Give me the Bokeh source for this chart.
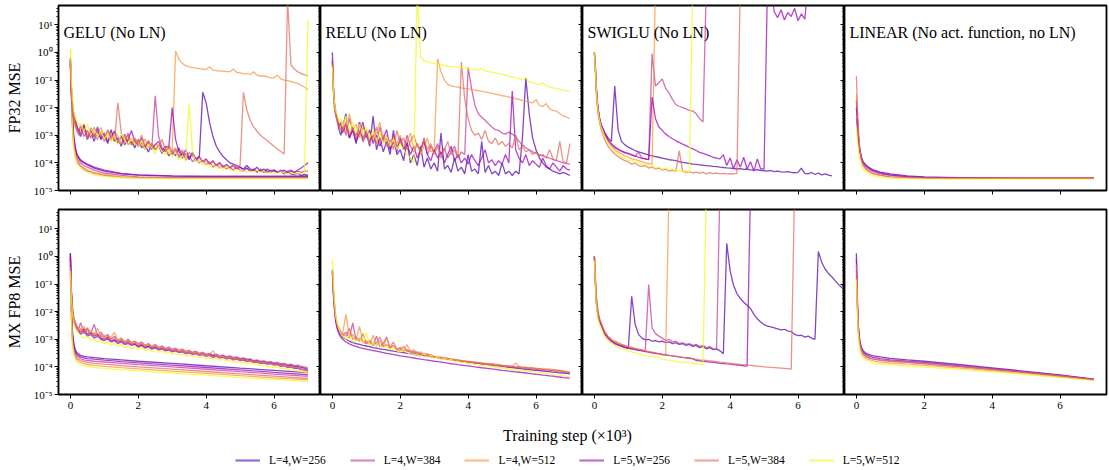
from bokeh.plotting import figure
from bokeh.models import (Range1d, FixedTicker, CustomJSTickFormatter, Label,
                          Legend, LegendItem, LogAxis)
from bokeh.layouts import column, row
from bokeh.embed import file_html
from bokeh.resources import INLINE

FONT = "Liberation Serif"

SERIES = ["L=4,W=256", "L=4,W=384", "L=4,W=512", "L=5,W=256", "L=5,W=384", "L=5,W=512"]
COLORS = ["#570ab1", "#c53f9d", "#f89540", "#9b08bb", "#e66c5c", "#f0f921"]
PANEL_TITLES = ["GELU (No LN)", "RELU (No LN)", "SWIGLU (No LN)", "LINEAR (No act. function, no LN)"]
ROW_LABELS = ["FP32 MSE", "MX FP8 MSE"]
X_LABEL = "Training step (\u00d710\u00b3)"
X_TICKS = [0, 2, 4, 6]
Y_TICKS = [1e-5, 1e-4, 1e-3, 1e-2, 1e-1, 1e0, 1e1]

# training step (x1e3) at which values were logged
T_SMOOTH = [0, 0.03, 0.06, 0.1, 0.15, 0.2, 0.3, 0.4, 0.5, 0.7, 1.0, 1.5, 2.0, 3.0, 4.0, 5.0, 6.0, 7.0]
T_NOISY = [0, 0.03, 0.06, 0.1, 0.15, 0.2, 0.25] + [round(0.3 + 0.1 * i, 1) for i in range(71)]

# ---------------- GELU, FP32 ----------------
g32_s_a = [0.5, 0.05, 5e-3, 8e-4, 3e-4, 1.8e-4, 1.2e-4, 1e-4, 8.5e-5, 6.5e-5, 5e-5, 4e-5, 3.6e-5, 3.3e-5, 3.2e-5, 3.2e-5, 3.2e-5, 3.2e-5]
g32_s_b = [0.3, 0.03, 3e-3, 6e-4, 2.5e-4, 1.5e-4, 1e-4, 8e-5, 7e-5, 5.5e-5, 4.3e-5, 3.5e-5, 3.1e-5, 2.9e-5, 2.9e-5, 2.9e-5, 2.9e-5, 2.9e-5]
g32_s_c = [0.6, 0.04, 2.5e-3, 5e-4, 2e-4, 1.2e-4, 8e-5, 6.5e-5, 5.5e-5, 4.5e-5, 3.8e-5, 3.2e-5, 3e-5, 2.8e-5, 2.8e-5, 2.8e-5, 2.8e-5, 2.8e-5]
g32_s_d = [0.4, 0.06, 6e-3, 9e-4, 3.5e-4, 2e-4, 1.3e-4, 1.05e-4, 9e-5, 7e-5, 5.5e-5, 4.2e-5, 3.7e-5, 3.4e-5, 3.3e-5, 3.3e-5, 3.3e-5, 3.4e-5]
g32_s_e = [0.35, 0.03, 2e-3, 4e-4, 1.7e-4, 1.1e-4, 7.5e-5, 6e-5, 5e-5, 4.2e-5, 3.5e-5, 3e-5, 2.9e-5, 2.8e-5, 2.8e-5, 2.8e-5, 2.8e-5, 2.8e-5]
g32_s_f = [1.3, 0.05, 2e-3, 3.5e-4, 1.5e-4, 9e-5, 6.5e-5, 5.2e-5, 4.5e-5, 3.8e-5, 3.2e-5, 2.9e-5, 2.8e-5, 2.7e-5, 2.7e-5, 2.7e-5, 2.7e-5, 2.7e-5]

g32_n_a = [0.5, 0.03, 8e-3, 4e-3, 2.5e-3, 1.6e-3, 1.2e-3,
           9e-4, 2e-3, 7e-4, 1.3e-3, 6e-4, 1.5e-3, 7e-4,
           1e-3, 5e-4, 1.6e-3, 6e-4, 8e-4, 4e-4, 1.1e-3, 4.5e-4, 6e-4, 3.5e-4,
           7e-4, 3.5e-4, 4.5e-4, 2.5e-4, 5e-4, 3e-4, 4e-4, 2.2e-4, 3.2e-4, 1.8e-4,
           2.6e-4, 1.8e-4, 3.5e-4, 1.5e-4, 2.2e-4, 1.3e-4, 2.4e-4, 1.4e-4, 1.7e-4, 3.6e-2,
           1.5e-2, 3e-3, 9e-4, 4e-4, 2.5e-4, 1.7e-4, 1.3e-4, 1e-4, 9e-5, 8e-5,
           7e-5, 6e-5, 8e-5, 6e-5, 5.5e-5, 7e-5, 5e-5, 6e-5, 5e-5, 4.5e-5,
           5.5e-5, 4.5e-5, 5e-5, 4e-5, 4.5e-5, 4e-5, 3.8e-5, 4.2e-5, 3.5e-5, 3.8e-5,
           3.5e-5]
g32_n_b = [0.4, 0.05, 1.2e-2, 5e-3, 3e-3, 2e-3, 1.4e-3,
           2.2e-3, 9e-4, 1.5e-3, 8e-4, 1.9e-3, 9e-4, 1.2e-3,
           6e-4, 1.4e-3, 7e-4, 1e-3, 5e-4, 9e-4, 6e-4, 1.2e-3, 4.5e-4, 7e-4,
           4e-4, 5.5e-4, 3e-4, 6e-4, 3.5e-4, 2.7e-2, 9e-4, 3.5e-4, 2.5e-4, 3.5e-4,
           2e-4, 3e-4, 1.5e-4, 2.5e-4, 1.3e-4, 1.8e-4, 1.1e-4, 1.5e-4, 1e-4, 1.2e-4,
           8.5e-5, 1.1e-4, 7e-5, 9e-5, 6.5e-5, 8e-5, 6e-5, 7e-5, 5.5e-5, 7e-5,
           5.5e-5, 5e-5, 6.5e-5, 5e-5, 5.5e-5, 4.5e-5, 6e-5, 5e-5, 4.5e-5, 5.5e-5,
           5e-5, 4.5e-5, 5.5e-5, 4.5e-5, 5e-5, 5.5e-5, 4.5e-5, 5e-5, 4.5e-5, 5e-5,
           5e-5]
g32_n_c = [0.7, 0.04, 1e-2, 4e-3, 2.5e-3, 1.8e-3, 1.3e-3,
           1.5e-3, 2.5e-3, 1e-3, 1.6e-3, 8e-4, 1.3e-3, 1.9e-3,
           8e-4, 1.2e-3, 6e-4, 1.5e-3, 9e-4, 5e-4, 1e-3, 6e-4, 8e-4, 4.5e-4,
           6.5e-4, 4e-4, 7.5e-4, 3.5e-4, 5e-4, 3e-4, 4.5e-4, 2.6e-4, 3.8e-4, 2e-4,
           2.5e-4, 1.1, 0.55, 0.4, 0.33, 0.3, 0.28, 0.27, 0.26, 0.25,
           0.24, 0.3, 0.23, 0.22, 0.21, 0.21, 0.2, 0.2, 0.25, 0.19,
           0.18, 0.17, 0.17, 0.16, 0.2, 0.15, 0.14, 0.14, 0.13, 0.12,
           0.12, 0.15, 0.11, 0.1, 0.095, 0.09, 0.08, 0.075, 0.065, 0.055,
           0.045]
g32_n_d = [0.6, 0.04, 1.5e-2, 6e-3, 3.5e-3, 2e-3, 1.5e-3,
           1.1e-3, 2.4e-3, 8e-4, 1.4e-3, 9e-4, 2e-3, 8e-4,
           1.2e-3, 6e-4, 9e-4, 1.4e-3, 5e-4, 1e-3, 4.5e-4, 7e-4, 1.5e-3, 5.5e-4,
           4e-4, 8e-4, 3.5e-4, 5.5e-4, 3e-4, 4.5e-4, 6e-4, 2.8e-4, 4e-4, 3.5e-4,
           1e-2, 7e-4, 2.5e-4, 1.8e-4, 3e-4, 1.5e-4, 2.2e-4, 1.2e-4, 1.7e-4, 1.1e-4,
           1.4e-4, 9e-5, 1.2e-4, 8e-5, 1.05e-4, 7e-5, 9e-5, 6.5e-5, 8e-5, 6e-5,
           7e-5, 5.5e-5, 6.5e-5, 5e-5, 6e-5, 5e-5, 5.5e-5, 4.5e-5, 6e-5, 5e-5,
           5.5e-5, 4.5e-5, 5e-5, 5.5e-5, 4.5e-5, 5e-5, 4.5e-5, 5.5e-5, 6.5e-5, 8e-5,
           1e-4]
g32_n_e = [0.3, 0.03, 7e-3, 3e-3, 2e-3, 1.3e-3, 1e-3,
           1.1e-3, 1.7e-3, 7e-4, 1.9e-3, 1.1e-3, 7e-4, 1.4e-3,
           8e-4, 1.6e-3, 1e-3, 6e-4, 1.5e-2, 1.2e-3, 6e-4, 1e-3, 4.5e-4, 8e-4,
           5e-4, 1e-3, 4e-4, 6.5e-4, 3.5e-4, 5e-4, 4e-4, 7e-4, 3e-4, 4.5e-4,
           2.5e-4, 3.5e-4, 1.8e-4, 3e-4, 1.5e-4, 2.4e-4, 1.8e-4, 1.2e-4, 1.5e-4, 1.1e-4,
           1.2e-4, 9e-5, 1.1e-4, 8e-5, 9e-5, 7e-5, 8e-5, 7e-5, 9e-5, 7e-5,
           8e-5, 3.6e-2, 8e-3, 3.5e-3, 2e-3, 1.4e-3, 1e-3, 8e-4, 6.5e-4, 5e-4,
           4e-4, 3.2e-4, 2.6e-4, 2.1e-4, 80, 0.35, 0.25, 0.2, 0.17, 0.155,
           0.14]
g32_n_f = [1.3, 0.1, 2.5e-2, 7e-3, 4e-3, 3e-3, 2.2e-3,
           2.8e-3, 1.4e-3, 2.5e-3, 1e-3, 1.7e-3, 9e-4, 1.4e-3,
           7e-4, 1.2e-3, 6e-4, 1e-3, 4.5e-4, 1.1e-3, 7e-4, 4.5e-4, 8e-4, 5e-4,
           4e-4, 6.5e-4, 3e-4, 5e-4, 3.5e-4, 2.2e-4, 4e-4, 2.6e-4, 2e-4, 3.2e-4,
           1.6e-4, 2.5e-4, 1.3e-4, 1.9e-4, 1.1e-4, 1.4e-2, 2.5e-4, 1.1e-4, 1.2e-4, 8.5e-5,
           9.5e-5, 7e-5, 8.5e-5, 6.5e-5, 7e-5, 5.5e-5, 7.5e-5, 5.5e-5, 5e-5, 6e-5,
           5e-5, 5.5e-5, 4.5e-5, 5e-5, 4.5e-5, 5.5e-5, 4.5e-5, 5e-5, 4.2e-5, 4.6e-5,
           4.4e-5, 4.2e-5, 4.8e-5, 4.3e-5, 4.1e-5, 4.4e-5, 4e-5, 4.3e-5, 4.1e-5, 4.3e-5,
           15]

# ---------------- RELU, FP32 ----------------
r32_a = [1.0, 0.06, 1.5e-2, 6e-3, 3e-3, 1.5e-3, 1e-3,
         2e-3, 6e-3, 8e-4, 1.5e-3, 5e-4, 3e-3, 6e-4,
         1.2e-3, 4e-4, 5e-3, 3e-4, 8e-4, 2.5e-4, 6e-4, 2e-4, 1.5e-3, 2e-4,
         3e-4, 1.2e-4, 6e-4, 1e-4, 2e-4, 8e-5, 4e-4, 7e-5, 1.5e-4, 6e-5,
         1e-4, 5e-5, 1.2e-3, 6e-5, 8e-5, 4.5e-5, 1.5e-4, 5e-5, 7e-5, 4e-5,
         2e-4, 5e-5, 6e-5, 4e-5, 6e-4, 4.5e-5, 8e-5, 4e-5, 5e-5, 3.5e-5,
         1e-4, 4e-5, 5e-5, 3.5e-5, 5e-5, 4e-5, 8e-4, 0.12, 6e-3, 8e-4,
         3e-4, 1.5e-4, 1e-4, 7e-5, 6e-5, 5e-5, 4.5e-5, 4e-5, 4.5e-5, 4e-5,
         3.5e-5]
r32_b = [0.6, 0.05, 1e-2, 5e-3, 4e-3, 2e-3, 1.5e-3,
         2.5e-3, 1e-3, 4e-3, 1.5e-3, 1e-3, 3e-3, 8e-4,
         1.5e-3, 6e-4, 1e-3, 5e-4, 2e-3, 6e-4, 8e-4, 3e-4, 1e-3, 4e-4,
         6e-4, 3e-4, 1e-3, 4e-4, 2.5e-4, 5e-4, 3e-4, 8e-4, 2e-4, 4e-4,
         2.5e-4, 5e-4, 2e-4, 3.5e-4, 1.5e-4, 2.5e-4, 4e-4, 1.5e-4, 2.5e-4, 2e-4,
         0.29, 0.05, 0.012, 6e-3, 4.5e-3, 3.5e-3, 2.6e-3, 2e-3, 1.6e-3, 1.5e-3,
         1.2e-3, 1.1e-3, 1.3e-3, 1.1e-3, 9e-4, 6e-4, 4.5e-4, 3.5e-4, 3e-4, 2.5e-4,
         2.2e-4, 2e-4, 1.8e-4, 1.6e-4, 1.5e-4, 1.3e-4, 1.2e-4, 1.1e-4, 1e-4, 9.5e-5,
         9e-5]
r32_c = [0.5, 0.04, 1e-2, 6e-3, 3e-3, 2.5e-3, 1.5e-3,
         3e-3, 1.2e-3, 6e-3, 1.5e-3, 2.5e-3, 8e-4, 2e-3,
         1e-3, 1.6e-3, 6e-4, 1.2e-3, 3e-3, 7e-4, 1e-3, 4e-4, 8e-4, 5e-4,
         1e-3, 3e-4, 6e-4, 1.2e-3, 3e-4, 5e-4, 2e-4, 4e-4, 8e-4, 2.5e-4,
         3e-4, 0.59, 0.2, 0.1, 0.07, 0.062, 0.058, 0.055, 0.052, 0.05,
         0.048, 0.045, 0.043, 0.041, 0.039, 0.037, 0.035, 0.033, 0.031, 0.029,
         0.027, 0.026, 0.024, 0.023, 0.021, 0.02, 0.018, 0.017, 0.016, 0.015,
         0.02, 0.012, 0.011, 0.014, 9e-3, 8e-3, 7.5e-3, 6e-3, 5e-3, 4.5e-3,
         4e-3]
r32_d = [0.5, 0.05, 1.5e-2, 7e-3, 4e-3, 2e-3, 3e-3,
         1.2e-3, 2.5e-3, 8e-4, 1.8e-3, 6e-4, 1.2e-3, 3e-3,
         8e-4, 1.5e-3, 5e-4, 1e-3, 4e-4, 8e-4, 1.6e-3, 3e-4, 6e-4, 2.5e-4,
         8e-4, 3e-4, 5e-4, 2e-4, 4e-4, 1.5e-4, 3e-4, 6e-4, 2e-4, 1.2e-4,
         3e-4, 1.5e-4, 2.5e-4, 1e-4, 2e-4, 4e-4, 1.2e-4, 2e-4, 1e-4, 1.5e-4,
         9e-5, 2e-4, 1.2e-4, 8e-5, 1.5e-4, 3e-4, 1e-4, 1.3e-4, 8e-5, 1.2e-4,
         9e-5, 2e-4, 1e-4, 0.04, 3e-4, 1.5e-4, 1e-4, 2e-4, 8e-5, 1.2e-4,
         9e-5, 7e-5, 1.5e-4, 8e-5, 6e-5, 1e-4, 7e-5, 5e-5, 8e-5, 6e-5,
         5.5e-5]
r32_e = [0.4, 0.04, 1.2e-2, 5e-3, 3e-3, 2e-3, 2.5e-3,
         1.5e-3, 3e-3, 1e-3, 2e-3, 8e-4, 1.5e-3, 6e-4,
         1.2e-3, 5e-4, 9e-4, 2e-3, 6e-4, 1e-3, 4e-4, 7e-4, 3e-4, 1.5e-3,
         5e-4, 8e-4, 3e-4, 6e-4, 1e-3, 4e-4, 2.5e-4, 7e-4, 3e-4, 5e-4,
         2e-4, 4e-4, 1.5e-4, 3e-4, 6e-4, 2e-4, 3e-4, 1.5e-4, 0.45, 0.02,
         4e-3, 1.5e-3, 1e-3, 1.2e-3, 7e-4, 1.5e-3, 6e-4, 5e-4, 8e-4, 4.5e-4,
         6e-4, 4e-4, 5e-4, 3.5e-4, 1e-3, 3e-4, 4e-4, 2.5e-4, 3e-4, 2e-4,
         2.5e-4, 1.8e-4, 2e-4, 1.5e-4, 3e-4, 1.4e-4, 1.2e-4, 6e-4, 1.1e-4, 1e-4,
         5e-4]
r32_f = [0.3, 0.05, 1.5e-2, 8e-3, 5e-3, 3e-3, 4e-3,
         2e-3, 5e-3, 1.5e-3, 3e-3, 1.2e-3, 2.5e-3, 1e-3,
         2e-3, 8e-4, 1.5e-3, 6e-4, 1.2e-3, 5e-4, 9e-4, 4e-4, 7e-4, 3e-4,
         5e-4, 3e-4, 2e-4, 1.5e-4, 1e-4, 200, 0.68, 0.5, 0.45, 0.42,
         0.4, 0.38, 0.36, 0.34, 0.32, 0.31, 0.3, 0.29, 0.28, 0.27,
         0.26, 0.25, 0.24, 0.23, 0.27, 0.21, 0.2, 0.19, 0.18, 0.17,
         0.16, 0.15, 0.14, 0.13, 0.12, 0.11, 0.1, 0.12, 0.085, 0.08,
         0.072, 0.068, 0.08, 0.06, 0.056, 0.052, 0.05, 0.046, 0.043, 0.041,
         0.039]

# ---------------- SWIGLU, FP32 ----------------
s32_a = [1.0, 0.3, 0.05, 0.012, 4e-3, 2.5e-3, 1.8e-3,
         1.3e-3, 8e-4, 6e-4, 6e-2, 1.5e-3, 6e-4, 4.5e-4,
         3.7e-4, 3.2e-4, 2.8e-4, 2.5e-4, 2.3e-4, 2.1e-4, 1.9e-4, 1.8e-4, 1.7e-4, 1.6e-4,
         1.5e-4, 1.4e-4, 1.3e-4, 1.25e-4, 1.2e-4, 1.1e-4, 1.05e-4, 1e-4, 9.5e-5, 9e-5,
         8.8e-5, 8.5e-5, 8.2e-5, 8e-5, 7.8e-5, 7.5e-5, 7.3e-5, 7e-5, 6.8e-5, 6.6e-5,
         6.5e-5, 6.3e-5, 6e-5, 6.2e-5, 5.8e-5, 6e-5, 5.6e-5, 5.5e-5, 5.7e-5, 5.3e-5,
         5.2e-5, 5e-5, 5.3e-5, 4.8e-5, 5e-5, 4.7e-5, 4.6e-5, 4.8e-5, 4.5e-5, 4.4e-5,
         4.5e-5, 6.5e-5, 4.2e-5, 4e-5, 4.5e-5, 3.8e-5, 4.3e-5, 3.7e-5, 4e-5, 3.6e-5,
         3.4e-5]
s32_b = [1.0, 0.25, 0.04, 0.01, 4e-3, 2.2e-3, 1.6e-3,
         1.1e-3, 6.5e-4, 4.5e-4, 3.5e-4, 3e-4, 2.6e-4, 2.3e-4,
         2.1e-4, 1.9e-4, 1.7e-4, 2.5e-4, 1.5e-4, 1.4e-4, 1.3e-4, 0.9, 0.06, 0.08,
         0.11, 0.05, 0.034, 0.02, 0.013, 0.011, 0.01, 9e-3, 8e-3, 7.5e-3,
         6e-3, 4e-3, 3e-3, 300]
s32_c = [1.0, 0.2, 0.03, 8e-3, 3.5e-3, 2e-3, 1.4e-3,
         1e-3, 6e-4, 4e-4, 3e-4, 2.5e-4, 2.1e-4, 1.8e-4,
         1.6e-4, 1.4e-4, 1.3e-4, 1.2e-4, 1.1e-4, 1e-4, 9.5e-5, 9e-5, 300]
s32_d = [1.0, 0.28, 0.045, 0.011, 4.5e-3, 2.3e-3, 1.7e-3,
         1.2e-3, 7e-4, 5e-4, 3.8e-4, 3.2e-4, 2.7e-4, 2.4e-4,
         2.2e-4, 2e-4, 1.8e-4, 1.6e-4, 1.5e-4, 1.4e-4, 1.3e-4, 0.024, 4e-3, 2e-3,
         1.5e-3, 1.1e-3, 9e-4, 7.5e-4, 6.3e-4, 5.5e-4, 4.8e-4, 4.2e-4, 3.6e-4, 3.2e-4,
         2.8e-4, 2.4e-4, 2.2e-4, 2e-4, 1.8e-4, 1.6e-4, 1.5e-4, 1.4e-4, 2e-4, 8e-5,
         1.5e-4, 6e-5, 1.3e-4, 7e-5, 1.6e-4, 6e-5, 1.1e-4, 5e-5, 1.4e-4, 6e-5,
         6e-5, 300, 200, 30, 18, 35, 15, 28, 20, 40,
         14, 25, 16, 300]
s32_e = [1.0, 0.2, 0.03, 7e-3, 3e-3, 1.6e-3, 1.1e-3,
         7e-4, 4e-4, 2.8e-4, 2.1e-4, 1.7e-4, 1.4e-4, 1.2e-4,
         1.1e-4, 9e-5, 1e-4, 8e-5, 7.5e-5, 8e-5, 6.5e-5, 7e-5, 6e-5, 6.5e-5,
         5.5e-5, 6e-5, 5e-5, 5.5e-5, 4.8e-5, 2.7e-4, 5e-5, 4.5e-5, 4.8e-5, 4.3e-5,
         4.6e-5, 4.2e-5, 4.5e-5, 4e-5, 4.4e-5, 4.1e-5, 4.3e-5, 4e-5, 4.2e-5, 4e-5,
         4.1e-5, 4e-5, 4.2e-5, 300]
s32_f = [1.0, 0.22, 0.035, 9e-3, 3.5e-3, 2e-3, 1.4e-3,
         9e-4, 5e-4, 3.5e-4, 2.6e-4, 2.2e-4, 1.6e-4, 1.5e-4,
         1.2e-4, 1.3e-4, 1e-4, 1.1e-4, 8.5e-5, 9e-5, 7.5e-5, 8e-5, 6.5e-5, 7e-5,
         6e-5, 6.5e-5, 5.5e-5, 6e-5, 5e-5, 5.5e-5, 4.8e-5, 5.2e-5, 4.7e-5, 300]

# ---------------- LINEAR, FP32 ----------------
l32_a = [0.018, 4e-3, 1e-3, 3e-4, 1.6e-4, 1.1e-4, 8e-5, 6.5e-5, 5.6e-5, 4.6e-5, 4e-5, 3.4e-5, 3.1e-5, 2.9e-5, 2.85e-5, 2.8e-5, 2.8e-5, 2.8e-5]
l32_b = [4e-3, 1.5e-3, 6e-4, 2.5e-4, 1.3e-4, 9e-5, 6.5e-5, 5.5e-5, 4.8e-5, 4e-5, 3.5e-5, 3.1e-5, 2.9e-5, 2.8e-5, 2.8e-5, 2.8e-5, 2.8e-5, 2.8e-5]
l32_c = [0.03, 5e-3, 1.2e-3, 2.8e-4, 1.3e-4, 8.5e-5, 6e-5, 4.8e-5, 4.2e-5, 3.6e-5, 3.2e-5, 2.9e-5, 2.8e-5, 2.75e-5, 2.75e-5, 2.75e-5, 2.75e-5, 2.75e-5]
l32_d = [0.01, 3e-3, 9e-4, 3e-4, 1.5e-4, 1e-4, 7.5e-5, 6e-5, 5.2e-5, 4.3e-5, 3.7e-5, 3.2e-5, 3e-5, 2.9e-5, 2.8e-5, 2.8e-5, 2.8e-5, 2.8e-5]
l32_e = [0.14, 0.012, 1.5e-3, 3e-4, 1.3e-4, 8e-5, 5.5e-5, 4.6e-5, 4e-5, 3.5e-5, 3.1e-5, 2.9e-5, 2.8e-5, 2.8e-5, 2.8e-5, 2.8e-5, 2.8e-5, 2.85e-5]
l32_f = [2e-3, 6e-4, 2.5e-4, 1.3e-4, 8e-5, 6e-5, 4.5e-5, 3.8e-5, 3.4e-5, 3e-5, 2.8e-5, 2.7e-5, 2.65e-5, 2.6e-5, 2.6e-5, 2.6e-5, 2.6e-5, 2.6e-5]

# ---------------- GELU, MX FP8 ----------------
g8_s_a = [1.3, 0.02, 2e-3, 7e-4, 4e-4, 3.2e-4, 2.6e-4, 2.4e-4, 2.3e-4, 2.15e-4, 2e-4, 1.8e-4, 1.6e-4, 1.35e-4, 1.1e-4, 9e-5, 7.5e-5, 6.2e-5]
g8_s_b = [0.5, 0.01, 1.2e-3, 5e-4, 3e-4, 2.4e-4, 2e-4, 1.8e-4, 1.7e-4, 1.6e-4, 1.5e-4, 1.35e-4, 1.2e-4, 1e-4, 8.2e-5, 6.7e-5, 5.5e-5, 4.5e-5]
g8_s_c = [0.25, 6e-3, 8e-4, 3.5e-4, 2.2e-4, 1.7e-4, 1.45e-4, 1.3e-4, 1.22e-4, 1.13e-4, 1.05e-4, 9.4e-5, 8.5e-5, 7e-5, 5.8e-5, 4.8e-5, 4e-5, 3.4e-5]
g8_s_d = [0.8, 0.015, 1.5e-3, 6e-4, 3.5e-4, 2.8e-4, 2.3e-4, 2.1e-4, 2e-4, 1.9e-4, 1.75e-4, 1.55e-4, 1.4e-4, 1.15e-4, 9.5e-5, 7.8e-5, 6.3e-5, 5.2e-5]
g8_s_e = [0.3, 8e-3, 1e-3, 4e-4, 2.5e-4, 2e-4, 1.7e-4, 1.55e-4, 1.45e-4, 1.35e-4, 1.25e-4, 1.12e-4, 1e-4, 8.3e-5, 6.8e-5, 5.6e-5, 4.6e-5, 3.8e-5]
g8_s_f = [0.2, 5e-3, 7e-4, 3e-4, 1.8e-4, 1.4e-4, 1.2e-4, 1.1e-4, 1.03e-4, 9.5e-5, 8.8e-5, 7.9e-5, 7.2e-5, 6e-5, 5e-5, 4.1e-5, 3.5e-5, 3e-5]

g8_n_a = [1.3, 0.06, 0.012, 5e-3, 3e-3, 2.5e-3, 2e-3,
          1.8e-3, 2.4e-3, 1.5e-3, 1.7e-3, 1.3e-3, 1.5e-3, 1.1e-3,
          1e-3, 1.2e-3, 8.5e-4, 9.5e-4, 8e-4, 9e-4, 7e-4, 8e-4, 6.5e-4, 7e-4,
          5.5e-4, 6.5e-4, 5.2e-4, 5.8e-4, 4.8e-4, 5.3e-4, 4.5e-4, 4.9e-4, 4.2e-4, 4.5e-4,
          3.8e-4, 4.2e-4, 3.6e-4, 3.9e-4, 3.3e-4, 3.6e-4, 3.1e-4, 3.3e-4, 2.9e-4, 3.1e-4,
          2.7e-4, 2.9e-4, 2.5e-4, 2.7e-4, 2.3e-4, 2.5e-4, 2.2e-4, 2.3e-4, 2e-4, 2.1e-4,
          1.9e-4, 2e-4, 1.75e-4, 1.85e-4, 1.6e-4, 1.7e-4, 1.5e-4, 1.55e-4, 1.4e-4, 1.45e-4,
          1.3e-4, 1.35e-4, 1.2e-4, 1.25e-4, 1.1e-4, 1.15e-4, 1.02e-4, 1.05e-4, 9.5e-5, 9e-5,
          8e-5]
g8_n_b = [0.9, 0.05, 0.015, 6e-3, 4e-3, 3e-3, 2.4e-3,
          4e-3, 1.8e-3, 2.6e-3, 1.6e-3, 3.5e-3, 1.4e-3, 1.8e-3,
          1.2e-3, 1.5e-3, 1e-3, 1.3e-3, 9e-4, 1.1e-3, 8e-4, 1e-3, 7.5e-4, 8.5e-4,
          7e-4, 8e-4, 6e-4, 7e-4, 5.5e-4, 6.5e-4, 5e-4, 5.8e-4, 4.6e-4, 5.2e-4,
          4.3e-4, 4.8e-4, 4e-4, 4.4e-4, 3.7e-4, 4e-4, 3.4e-4, 3.7e-4, 3.1e-4, 3.4e-4,
          2.9e-4, 3.1e-4, 2.7e-4, 2.9e-4, 2.5e-4, 2.7e-4, 2.3e-4, 2.5e-4, 2.2e-4, 2.3e-4,
          2e-4, 2.1e-4, 1.9e-4, 1.95e-4, 1.7e-4, 1.8e-4, 1.6e-4, 1.65e-4, 1.5e-4, 1.55e-4,
          1.4e-4, 1.45e-4, 1.3e-4, 1.35e-4, 1.2e-4, 1.25e-4, 1.12e-4, 1.15e-4, 1.05e-4, 1e-4,
          9e-5]
g8_n_c = [0.6, 0.04, 0.012, 5e-3, 3.5e-3, 2.8e-3, 2.2e-3,
          2e-3, 3e-3, 1.6e-3, 2.2e-3, 1.4e-3, 2.5e-3, 1.2e-3,
          1.4e-3, 1e-3, 1.2e-3, 1.8e-3, 9e-4, 1.1e-3, 8e-4, 9e-4, 7e-4, 8e-4,
          6.5e-4, 7.5e-4, 5.8e-4, 6.5e-4, 5.2e-4, 6e-4, 4.8e-4, 5.3e-4, 4.4e-4, 4.8e-4,
          4e-4, 4.4e-4, 3.7e-4, 4e-4, 3.4e-4, 3.7e-4, 3.1e-4, 3.4e-4, 2.9e-4, 3.1e-4,
          2.7e-4, 2.9e-4, 3.8e-4, 2.6e-4, 2.3e-4, 2.4e-4, 2.1e-4, 2.2e-4, 1.9e-4, 2e-4,
          1.75e-4, 1.85e-4, 1.6e-4, 1.7e-4, 1.5e-4, 1.55e-4, 1.4e-4, 1.45e-4, 1.3e-4, 1.35e-4,
          1.2e-4, 1.25e-4, 1.1e-4, 1.15e-4, 1e-4, 1.05e-4, 9.2e-5, 9.5e-5, 8.5e-5, 8e-5,
          7.5e-5]
g8_n_d = [1.0, 0.05, 0.01, 4.5e-3, 2.8e-3, 2.2e-3, 1.8e-3,
          1.5e-3, 1.9e-3, 1.3e-3, 1.5e-3, 1.1e-3, 1.3e-3, 1e-3,
          9e-4, 1.05e-3, 8e-4, 9e-4, 7e-4, 8e-4, 6.5e-4, 7e-4, 6e-4, 6.5e-4,
          5.2e-4, 6e-4, 4.8e-4, 5.4e-4, 4.4e-4, 4.9e-4, 4.1e-4, 4.5e-4, 3.8e-4, 4.1e-4,
          3.5e-4, 3.8e-4, 3.3e-4, 3.5e-4, 3e-4, 3.2e-4, 2.8e-4, 3e-4, 2.6e-4, 2.8e-4,
          2.4e-4, 2.6e-4, 2.2e-4, 2.4e-4, 2.1e-4, 2.2e-4, 1.95e-4, 2.05e-4, 1.8e-4, 1.9e-4,
          1.7e-4, 1.75e-4, 1.55e-4, 1.65e-4, 1.45e-4, 1.5e-4, 1.35e-4, 1.4e-4, 1.25e-4, 1.3e-4,
          1.15e-4, 1.2e-4, 1.05e-4, 1.1e-4, 9.5e-5, 1e-4, 8.8e-5, 9e-5, 8e-5, 7.8e-5,
          7.2e-5]
g8_n_e = [0.4, 0.04, 0.012, 6e-3, 3.5e-3, 2.6e-3, 2e-3,
          2.5e-3, 1.6e-3, 2.2e-3, 1.4e-3, 1.7e-3, 1.2e-3, 1.5e-3,
          1e-3, 1.3e-3, 8.5e-4, 1.1e-3, 8e-4, 9.5e-4, 7e-4, 8.5e-4, 6.5e-4, 7.5e-4,
          6e-4, 7e-4, 5.5e-4, 6.2e-4, 5e-4, 5.6e-4, 4.6e-4, 5e-4, 4.2e-4, 4.6e-4,
          3.8e-4, 4.2e-4, 3.5e-4, 3.8e-4, 3.2e-4, 3.5e-4, 3e-4, 3.2e-4, 2.7e-4, 2.9e-4,
          2.5e-4, 2.7e-4, 2.3e-4, 2.5e-4, 2.2e-4, 2.3e-4, 2e-4, 2.1e-4, 1.85e-4, 1.95e-4,
          1.7e-4, 1.8e-4, 1.6e-4, 1.65e-4, 1.5e-4, 1.55e-4, 1.4e-4, 1.45e-4, 1.3e-4, 1.35e-4,
          1.2e-4, 1.25e-4, 1.1e-4, 1.15e-4, 1e-4, 1.05e-4, 9.2e-5, 9.5e-5, 8.5e-5, 8e-5,
          7e-5]
g8_n_f = [0.3, 0.03, 8e-3, 4e-3, 2.6e-3, 2e-3, 1.6e-3,
          1.4e-3, 1.1e-3, 1.3e-3, 9e-4, 1e-3, 8e-4, 9e-4,
          7e-4, 8e-4, 6e-4, 7e-4, 5.5e-4, 6.5e-4, 5e-4, 5.8e-4, 4.6e-4, 5.2e-4,
          4.2e-4, 5e-4, 3.9e-4, 4.4e-4, 3.6e-4, 4e-4, 3.4e-4, 3.7e-4, 3.1e-4, 3.4e-4,
          2.9e-4, 3.1e-4, 2.7e-4, 2.9e-4, 2.5e-4, 2.7e-4, 2.3e-4, 2.5e-4, 2.2e-4, 2.3e-4,
          2e-4, 2.1e-4, 1.9e-4, 2e-4, 1.75e-4, 1.85e-4, 1.6e-4, 1.7e-4, 1.5e-4, 1.55e-4,
          1.4e-4, 1.45e-4, 1.3e-4, 1.35e-4, 1.2e-4, 1.25e-4, 1.12e-4, 1.15e-4, 1.05e-4, 1e-4,
          9.5e-5, 9.8e-5, 8.8e-5, 9e-5, 8e-5, 8.3e-5, 7.5e-5, 7.2e-5, 6.8e-5, 6.5e-5,
          6e-5]

# ---------------- RELU, MX FP8 ----------------
r8_a = [0.3, 0.06, 0.015, 5e-3, 2.5e-3, 1.8e-3, 1.4e-3,
        1.2e-3, 1e-3, 8.5e-4, 7.5e-4, 7e-4, 6.5e-4, 6e-4,
        5.7e-4, 5.4e-4, 5e-4, 4.8e-4, 4.5e-4, 4.3e-4, 4.1e-4, 3.9e-4, 3.7e-4, 3.6e-4,
        3.4e-4, 3.3e-4, 3.1e-4, 3e-4, 2.9e-4, 2.75e-4, 2.65e-4, 2.55e-4, 2.45e-4, 2.35e-4,
        2.25e-4, 2.15e-4, 2.05e-4, 2e-4, 1.9e-4, 1.82e-4, 1.75e-4, 1.68e-4, 1.6e-4, 1.55e-4,
        1.5e-4, 1.45e-4, 1.4e-4, 1.35e-4, 1.3e-4, 1.25e-4, 1.2e-4, 1.16e-4, 1.12e-4, 1.08e-4,
        1.04e-4, 1e-4, 9.7e-5, 9.4e-5, 9.1e-5, 8.8e-5, 8.5e-5, 8.2e-5, 8e-5, 7.7e-5,
        7.5e-5, 7.3e-5, 7.1e-5, 6.9e-5, 6.7e-5, 6.5e-5, 6.3e-5, 6.1e-5, 6e-5, 5.8e-5,
        5.6e-5]
r8_b = [0.35, 0.05, 0.02, 6e-3, 3e-3, 2.2e-3, 1.7e-3,
        1.4e-3, 1.8e-3, 1.1e-3, 3.9e-3, 9e-4, 1.1e-3, 8e-4,
        7e-4, 9e-4, 6e-4, 1.3e-3, 5.5e-4, 7e-4, 1.2e-3, 4.8e-4, 6e-4, 4.3e-4,
        5e-4, 3.8e-4, 4.2e-4, 3.3e-4, 3.6e-4, 2.9e-4, 3.1e-4, 2.6e-4, 2.8e-4, 2.4e-4,
        2.2e-4, 2.3e-4, 2e-4, 2.1e-4, 1.85e-4, 1.9e-4, 1.7e-4, 1.75e-4, 1.55e-4, 1.6e-4,
        1.45e-4, 1.5e-4, 1.35e-4, 1.4e-4, 1.28e-4, 1.3e-4, 1.2e-4, 1.22e-4, 1.12e-4, 1.15e-4,
        1.06e-4, 1.08e-4, 1e-4, 1.02e-4, 9.5e-5, 9.7e-5, 9e-5, 9.2e-5, 8.6e-5, 8.8e-5,
        8.2e-5, 8.3e-5, 7.8e-5, 7.9e-5, 7.4e-5, 7.5e-5, 7e-5, 7.1e-5, 6.6e-5, 6.3e-5,
        6e-5]
r8_c = [0.25, 0.04, 0.015, 5e-3, 3e-3, 2.4e-3, 1.9e-3,
        1.6e-3, 8e-3, 1.2e-3, 1.5e-3, 1e-3, 2.9e-3, 8e-4,
        9e-4, 6.5e-4, 1.4e-3, 6e-4, 9e-4, 5.5e-4, 1.1e-3, 4.8e-4, 6e-4, 4.5e-4,
        4.5e-4, 3.8e-4, 6.5e-4, 3.4e-4, 4.2e-4, 3.2e-4, 3.5e-4, 2.8e-4, 3e-4, 2.5e-4,
        2.4e-4, 2.2e-4, 2.3e-4, 2e-4, 2.1e-4, 1.8e-4, 1.9e-4, 1.7e-4, 1.75e-4, 1.6e-4,
        1.6e-4, 1.5e-4, 1.55e-4, 1.4e-4, 1.45e-4, 1.3e-4, 1.35e-4, 1.25e-4, 1.3e-4, 1.2e-4,
        1.15e-4, 1.1e-4, 1.12e-4, 1.05e-4, 1.4e-4, 1e-4, 9.8e-5, 9.4e-5, 9.6e-5, 9e-5,
        9e-5, 8.6e-5, 8.8e-5, 8.2e-5, 8.4e-5, 7.8e-5, 8e-5, 7.4e-5, 7.2e-5, 6.8e-5,
        6.5e-5]
r8_d = [0.3, 0.04, 0.012, 4e-3, 2.2e-3, 1.5e-3, 1.2e-3,
        1e-3, 8e-4, 6.8e-4, 6e-4, 5.5e-4, 5e-4, 4.7e-4,
        4.4e-4, 4.1e-4, 3.9e-4, 3.7e-4, 3.5e-4, 3.3e-4, 3.1e-4, 2.95e-4, 2.8e-4, 2.65e-4,
        2.5e-4, 2.4e-4, 2.3e-4, 2.2e-4, 2.1e-4, 2e-4, 1.9e-4, 1.82e-4, 1.75e-4, 1.68e-4,
        1.6e-4, 1.54e-4, 1.48e-4, 1.42e-4, 1.36e-4, 1.3e-4, 1.25e-4, 1.2e-4, 1.16e-4, 1.12e-4,
        1.08e-4, 1.04e-4, 1e-4, 9.7e-5, 9.3e-5, 9e-5, 8.7e-5, 8.4e-5, 8.1e-5, 7.8e-5,
        7.5e-5, 7.3e-5, 7e-5, 6.8e-5, 6.6e-5, 6.4e-5, 6.2e-5, 6e-5, 5.8e-5, 5.6e-5,
        5.4e-5, 5.2e-5, 5e-5, 4.9e-5, 4.7e-5, 4.6e-5, 4.4e-5, 4.3e-5, 4.1e-5, 4e-5,
        3.9e-5]
r8_e = [0.3, 0.05, 0.018, 6e-3, 3.2e-3, 2.4e-3, 1.8e-3,
        1.5e-3, 1.3e-3, 2.5e-3, 1e-3, 1.2e-3, 8.5e-4, 1.6e-3,
        7e-4, 8.5e-4, 6e-4, 7.5e-4, 1.2e-3, 5.5e-4, 6.5e-4, 5e-4, 8e-4, 4.2e-4,
        4e-4, 5.5e-4, 3.5e-4, 4e-4, 3.2e-4, 3.5e-4, 2.9e-4, 3.1e-4, 2.6e-4, 2.8e-4,
        2.3e-4, 2.4e-4, 2.1e-4, 2.2e-4, 1.9e-4, 2e-4, 1.75e-4, 1.8e-4, 1.6e-4, 1.65e-4,
        1.5e-4, 1.55e-4, 1.4e-4, 1.45e-4, 1.3e-4, 1.35e-4, 1.25e-4, 1.28e-4, 1.15e-4, 1.18e-4,
        1.1e-4, 1.12e-4, 1.05e-4, 1.07e-4, 1e-4, 1.02e-4, 9.5e-5, 9.7e-5, 9e-5, 9.2e-5,
        8.5e-5, 8.7e-5, 8e-5, 8.2e-5, 7.6e-5, 7.8e-5, 7.2e-5, 7.4e-5, 6.8e-5, 6.6e-5,
        6.2e-5]
r8_f = [0.78, 0.1, 0.025, 7e-3, 3.5e-3, 2.2e-3, 1.6e-3,
        1.3e-3, 1e-3, 1.4e-3, 8e-4, 9e-4, 1.1e-3, 7e-4,
        1.8e-3, 6e-4, 7e-4, 5.5e-4, 6e-4, 4.8e-4, 5.5e-4, 4.2e-4, 4.8e-4, 3.8e-4,
        3.5e-4, 4.5e-4, 3.2e-4, 3e-4, 2.7e-4, 2.8e-4, 2.4e-4, 3e-4, 2.2e-4, 2.6e-4,
        2e-4, 2.4e-4, 1.85e-4, 2.1e-4, 1.7e-4, 1.9e-4, 1.55e-4, 1.6e-4, 1.42e-4, 1.45e-4,
        1.3e-4, 1.32e-4, 1.2e-4, 1.22e-4, 1.1e-4, 1.12e-4, 1.02e-4, 1.04e-4, 9.5e-5, 9.6e-5,
        8.8e-5, 9e-5, 8.2e-5, 8.3e-5, 7.7e-5, 7.8e-5, 7.2e-5, 7.3e-5, 6.8e-5, 6.8e-5,
        6.3e-5, 6.3e-5, 5.9e-5, 5.9e-5, 5.5e-5, 5.5e-5, 5.2e-5, 5.1e-5, 4.8e-5, 4.6e-5,
        4.3e-5]

# ---------------- SWIGLU, MX FP8 ----------------
sw8_a = [1.0, 0.12, 0.025, 9e-3, 5e-3, 3.5e-3, 2.4e-3,
         1.7e-3, 1.2e-3, 9e-4, 7.5e-4, 6.5e-4, 5.8e-4, 5.3e-4,
         4.7e-4, 0.036, 3.5e-3, 1.5e-3, 1.1e-3, 9.5e-4, 1e-3, 8.5e-4, 9e-4, 8e-4,
         8.5e-4, 7.5e-4, 8e-4, 7e-4, 7.5e-4, 6.5e-4, 7e-4, 6e-4, 6.5e-4, 5.5e-4,
         6e-4, 5e-4, 5.5e-4, 4.5e-4, 5e-4, 4.2e-4, 4.5e-4, 3.8e-4, 3e-4, 3.0,
         0.3, 0.09, 0.045, 0.03, 0.022, 0.017, 0.013, 8e-3, 5.5e-3, 4.2e-3,
         3.4e-3, 3e-3, 2.8e-3, 2.6e-3, 2.4e-3, 2.2e-3, 2.3e-3, 2e-3, 1.9e-3, 1.5e-3,
         1.35e-3, 1.4e-3, 1.2e-3, 1.3e-3, 1.1e-3, 1e-3, 1.5, 0.6, 0.35, 0.24,
         0.18, 0.13, 0.095, 0.072]
sw8_b = [1.0, 0.1, 0.02, 8e-3, 4.5e-3, 3.2e-3, 2.2e-3,
         1.6e-3, 1.1e-3, 8.5e-4, 7e-4, 6.2e-4, 5.5e-4, 5e-4,
         4.7e-4, 4.5e-4, 4.3e-4, 4.1e-4, 4e-4, 3.8e-4, 0.095, 2.6e-3, 1.6e-3, 1.3e-3,
         1.1e-3, 9e-4, 1e-3, 8e-4, 8.5e-4, 7e-4, 7.5e-4, 6.5e-4, 7e-4, 6e-4,
         6.5e-4, 5.5e-4, 6e-4, 5e-4, 5.5e-4, 4.5e-4, 4.2e-4, 300]
sw8_c = [1.0, 0.15, 0.03, 1e-2, 5e-3, 3.8e-3, 2.5e-3,
         1.8e-3, 1.2e-3, 9.5e-4, 8e-4, 7e-4, 6.5e-4, 5.8e-4,
         5.3e-4, 5e-4, 4.6e-4, 4.3e-4, 4e-4, 3.7e-4, 3.5e-4, 3.3e-4, 3.1e-4, 2.9e-4,
         2.8e-4, 2.7e-4, 300]
sw8_d = [1.0, 0.1, 0.02, 8e-3, 4.5e-3, 3.3e-3, 2.3e-3,
         1.6e-3, 1.1e-3, 8.5e-4, 7e-4, 6.2e-4, 5.6e-4, 5.1e-4,
         4.8e-4, 4.5e-4, 4.2e-4, 4e-4, 3.8e-4, 3.6e-4, 3.4e-4, 3.2e-4, 3.1e-4, 3e-4,
         2.8e-4, 2.7e-4, 2.6e-4, 2.5e-4, 2.4e-4, 2.3e-4, 2.2e-4, 2.15e-4, 2.1e-4, 2e-4,
         1.7e-4, 1.65e-4, 1.6e-4, 1.55e-4, 1.5e-4, 1.45e-4, 1.4e-4, 1.35e-4, 1.32e-4, 1.28e-4,
         1.25e-4, 1.2e-4, 1.17e-4, 1.14e-4, 1.1e-4, 1.07e-4, 300]
sw8_e = [1.0, 0.2, 0.04, 1.2e-2, 6e-3, 4e-3, 2.8e-3,
         2e-3, 1.3e-3, 1e-3, 8.5e-4, 7.5e-4, 6.5e-4, 6e-4,
         5.5e-4, 5.1e-4, 4.7e-4, 4.4e-4, 4.1e-4, 3.8e-4, 3.6e-4, 3.4e-4, 3.2e-4, 3e-4,
         2.9e-4, 2.75e-4, 2.6e-4, 2.5e-4, 2.4e-4, 2.3e-4, 2.2e-4, 2.1e-4, 2e-4, 1.95e-4,
         1.9e-4, 1.8e-4, 1.75e-4, 1.7e-4, 1.65e-4, 1.6e-4, 1.55e-4, 1.5e-4, 1.45e-4, 1.4e-4,
         1.35e-4, 1.3e-4, 1.27e-4, 1.23e-4, 1.2e-4, 1.16e-4, 1.13e-4, 1.1e-4, 1.07e-4, 1.04e-4,
         1e-4, 9.8e-5, 9.6e-5, 9.4e-5, 9.2e-5, 9e-5, 8.8e-5, 8.6e-5, 8.3e-5, 300]
sw8_f = [0.7, 0.08, 0.015, 6e-3, 3.5e-3, 2.5e-3, 1.8e-3,
         1.3e-3, 9e-4, 7e-4, 5.8e-4, 5e-4, 4.5e-4, 4.1e-4,
         3.8e-4, 3.5e-4, 3.2e-4, 3e-4, 2.8e-4, 2.6e-4, 2.5e-4, 2.4e-4, 2.3e-4, 2.2e-4,
         1.9e-4, 1.8e-4, 1.75e-4, 1.7e-4, 1.6e-4, 1.55e-4, 1.5e-4, 1.45e-4, 1.4e-4, 1.35e-4,
         1.3e-4, 1.25e-4, 1.2e-4, 300]

# ---------------- LINEAR, MX FP8 ----------------
l8_a = [1.3, 0.03, 3e-3, 9e-4, 5e-4, 3.8e-4, 3e-4, 2.7e-4, 2.5e-4, 2.3e-4, 2.05e-4, 1.8e-4, 1.6e-4, 1.22e-4, 9.2e-5, 6.9e-5, 5.1e-5, 3.6e-5]
l8_b = [0.3, 0.015, 2e-3, 6.5e-4, 3.8e-4, 2.9e-4, 2.3e-4, 2.05e-4, 1.9e-4, 1.75e-4, 1.6e-4, 1.45e-4, 1.3e-4, 1.03e-4, 8e-5, 6.2e-5, 4.7e-5, 3.4e-5]
l8_c = [0.2, 0.012, 1.6e-3, 5.5e-4, 3.3e-4, 2.5e-4, 2e-4, 1.8e-4, 1.65e-4, 1.5e-4, 1.38e-4, 1.25e-4, 1.14e-4, 9.2e-5, 7.3e-5, 5.7e-5, 4.4e-5, 3.3e-5]
l8_d = [0.8, 0.02, 2.5e-3, 8e-4, 4.5e-4, 3.4e-4, 2.7e-4, 2.4e-4, 2.2e-4, 2e-4, 1.8e-4, 1.6e-4, 1.45e-4, 1.12e-4, 8.6e-5, 6.5e-5, 4.9e-5, 3.5e-5]
l8_e = [0.5, 0.02, 2.2e-3, 7e-4, 4e-4, 3e-4, 2.4e-4, 2.1e-4, 1.95e-4, 1.8e-4, 1.65e-4, 1.5e-4, 1.35e-4, 1.06e-4, 8.2e-5, 6.3e-5, 4.8e-5, 3.45e-5]
l8_f = [0.15, 0.01, 1.3e-3, 4.5e-4, 2.7e-4, 2.1e-4, 1.7e-4, 1.5e-4, 1.38e-4, 1.27e-4, 1.17e-4, 1.07e-4, 9.8e-5, 8.1e-5, 6.6e-5, 5.3e-5, 4.1e-5, 3.2e-5]


def smooth(ci, ys):
    return (ci, T_SMOOTH[:len(ys)], ys)


def noisy(ci, ys):
    return (ci, T_NOISY[:len(ys)], ys)


PANELS = [
    [  # row 0: FP32
        [smooth(0, g32_s_a), smooth(1, g32_s_b), smooth(2, g32_s_c), smooth(3, g32_s_d),
         smooth(4, g32_s_e), smooth(5, g32_s_f),
         noisy(0, g32_n_a), noisy(1, g32_n_b), noisy(2, g32_n_c), noisy(3, g32_n_d),
         noisy(4, g32_n_e), noisy(5, g32_n_f)],
        [noisy(0, r32_a), noisy(1, r32_b), noisy(2, r32_c), noisy(3, r32_d),
         noisy(4, r32_e), noisy(5, r32_f)],
        [noisy(0, s32_a), noisy(1, s32_b), noisy(2, s32_c), noisy(3, s32_d),
         noisy(4, s32_e), noisy(5, s32_f)],
        [smooth(0, l32_a), smooth(1, l32_b), smooth(2, l32_c), smooth(3, l32_d),
         smooth(4, l32_e), smooth(5, l32_f)],
    ],
    [  # row 1: MX FP8
        [smooth(0, g8_s_a), smooth(1, g8_s_b), smooth(2, g8_s_c), smooth(3, g8_s_d),
         smooth(4, g8_s_e), smooth(5, g8_s_f),
         noisy(0, g8_n_a), noisy(1, g8_n_b), noisy(2, g8_n_c), noisy(3, g8_n_d),
         noisy(4, g8_n_e), noisy(5, g8_n_f)],
        [noisy(0, r8_a), noisy(1, r8_b), noisy(2, r8_c), noisy(3, r8_d),
         noisy(4, r8_e), noisy(5, r8_f)],
        [noisy(0, sw8_a), noisy(1, sw8_b), noisy(2, sw8_c), noisy(3, sw8_d),
         noisy(4, sw8_e), noisy(5, sw8_f)],
        [smooth(0, l8_a), smooth(1, l8_b), smooth(2, l8_c), smooth(3, l8_d),
         smooth(4, l8_e), smooth(5, l8_f)],
    ],
]

Y_MINOR = [m * 10.0 ** e for e in range(-5, 2) for m in range(2, 10) if m * 10.0 ** e < 50]

SUP_JS = r"""
const sup = {"-": "\u207b", "0": "\u2070", "1": "\u00b9", "2": "\u00b2", "3": "\u00b3",
             "4": "\u2074", "5": "\u2075", "6": "\u2076", "7": "\u2077", "8": "\u2078", "9": "\u2079"};
const e = Math.round(Math.log10(tick));
let s = "";
for (const ch of String(e)) { s += sup[ch]; }
return "10" + s;
"""

FW, FH = 262, 185
LEFT = 58


def make_panel(r, c):
    p = figure(frame_width=FW, frame_height=FH,
               x_range=Range1d(-0.35, 7.37), y_range=Range1d(1e-5, 50),
               y_axis_type="log", y_axis_location="left" if c == 0 else None,
               output_backend="svg", toolbar_location=None,
               min_border_left=LEFT if c == 0 else 0,
               min_border_right=2 if c == 3 else 0,
               min_border_top=5 if r == 0 else 1,
               min_border_bottom=18 if r == 0 else 22,
               background_fill_color="white", border_fill_color="white")
    p.outline_line_color = "black"
    p.outline_line_width = 1.8
    p.outline_line_alpha = 1.0
    p.grid.visible = False

    xa = p.xaxis[0]
    xa.ticker = FixedTicker(ticks=X_TICKS, minor_ticks=[])
    xa.major_tick_out = 4
    xa.major_tick_in = 0
    xa.minor_tick_out = 0
    xa.axis_line_color = None
    xa.major_tick_line_color = "black"
    xa.major_label_text_font = FONT
    xa.major_label_text_color = "black"
    if r == 0:
        xa.formatter = CustomJSTickFormatter(code="return '';")
        xa.major_label_text_font_size = "1px"
        xa.major_label_standoff = 0
    else:
        xa.major_label_text_font_size = "11px"
        xa.major_label_standoff = 3

    if c == 0:
        ya = p.yaxis[0]
        ya.ticker = FixedTicker(ticks=Y_TICKS, minor_ticks=Y_MINOR)
        ya.formatter = CustomJSTickFormatter(code=SUP_JS)
        ya.major_tick_out = 4
        ya.major_tick_in = 0
        ya.minor_tick_out = 2
        ya.minor_tick_in = 0
        ya.axis_line_color = None
        ya.major_label_text_font = FONT
        ya.major_label_text_font_size = "11px"
        ya.major_label_text_color = "black"
        ya.major_label_standoff = 2
        ya.axis_label = ROW_LABELS[r]
        ya.axis_label_text_font = FONT
        ya.axis_label_text_font_size = "16px"
        ya.axis_label_text_font_style = "normal"
        ya.axis_label_text_color = "black"
        ya.axis_label_standoff = 8
    if c < 3:
        # tick marks on the shared boundary with the next panel
        ra = LogAxis(ticker=FixedTicker(ticks=Y_TICKS, minor_ticks=Y_MINOR),
                     formatter=CustomJSTickFormatter(code="return '';"),
                     major_tick_in=4, major_tick_out=0, minor_tick_in=2, minor_tick_out=0,
                     axis_line_color=None, major_label_text_font_size="0px",
                     major_label_standoff=-4)
        p.add_layout(ra, "right")

    for ci, xs, ys in PANELS[r][c]:
        p.line(xs, ys, line_color=COLORS[ci], line_alpha=0.75, line_width=1.3)

    if r == 0:
        p.add_layout(Label(x=5, y=FH - 27, x_units="screen", y_units="screen",
                           text=PANEL_TITLES[c], text_font=FONT, text_font_size="16px",
                           text_baseline="middle", text_color="black"))
    return p


rows = [row(*[make_panel(r, c) for c in range(4)]) for r in range(2)]

NAN = float("nan")
foot = figure(width=LEFT + 4 * FW + 2, height=52, x_range=Range1d(0, 1), y_range=Range1d(0, 1),
              x_axis_location=None, y_axis_location=None, output_backend="svg",
              toolbar_location=None, min_border=0, outline_line_color=None,
              background_fill_color="white", border_fill_color="white")
foot.grid.visible = False
items = []
for name, col in zip(SERIES, COLORS):
    rr = foot.line([NAN], [NAN], line_color=col, line_width=2.2, line_alpha=0.6)
    items.append(LegendItem(label=name, renderers=[rr]))
leg = Legend(items=items, orientation="horizontal", location=(235, 2),
             glyph_width=25, glyph_height=12, label_standoff=9, spacing=24,
             padding=0, margin=0, border_line_alpha=0, background_fill_alpha=0,
             label_text_font=FONT, label_text_font_size="11.5px", label_text_color="black",
             label_height=12)
foot.add_layout(leg)
foot.add_layout(Label(x=567, y=33, x_units="screen", y_units="screen", text=X_LABEL,
                      text_font=FONT, text_font_size="16px", text_align="center",
                      text_baseline="middle", text_color="black"))

layout = column(rows[0], rows[1], foot)
open("out.html", "w").write(file_html(layout, INLINE, title="MSE"))
